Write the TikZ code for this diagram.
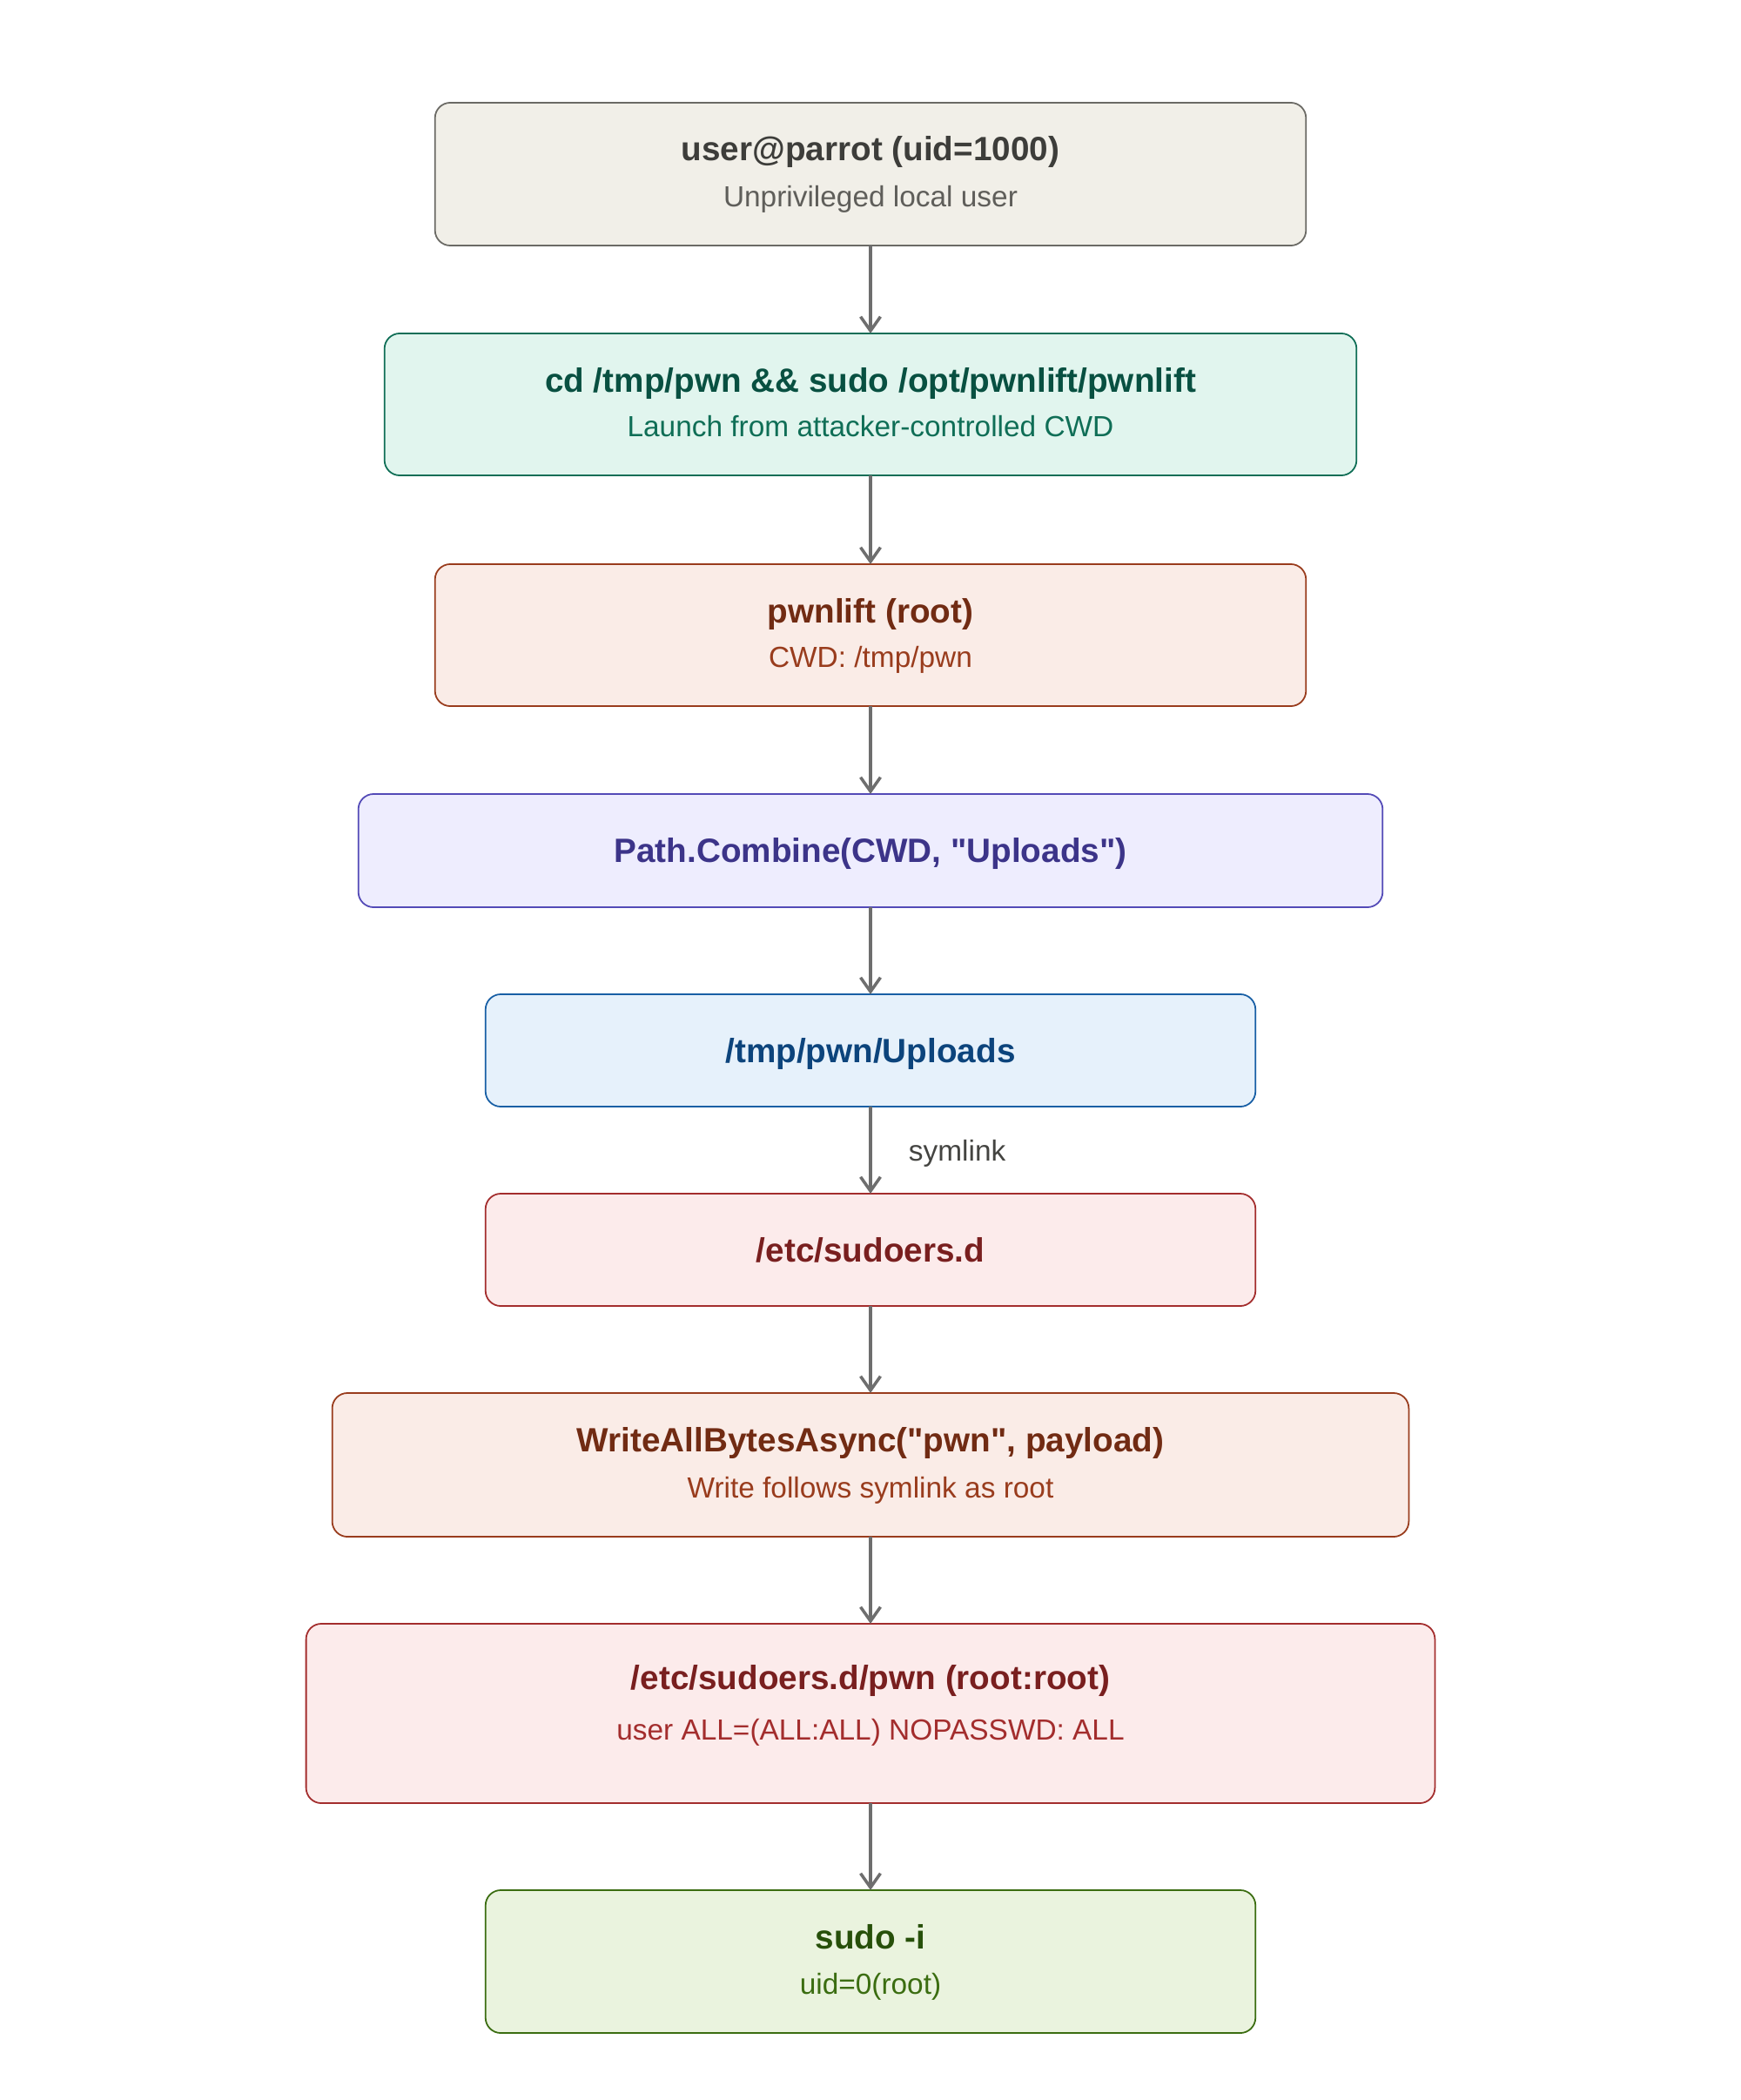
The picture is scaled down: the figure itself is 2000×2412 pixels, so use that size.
\documentclass[tikz,border=0pt]{standalone}
\usepackage{fontspec}
\setmainfont{Liberation Sans}
\usetikzlibrary{arrows.meta}

\definecolor{arrowgray}{HTML}{6E6E6E}
\definecolor{labelgray}{HTML}{444441}
\definecolor{sandfill}{HTML}{F1EFE8}
\definecolor{sanddraw}{HTML}{6B6A65}
\definecolor{sandtitle}{HTML}{3D3D3A}
\definecolor{sandsub}{HTML}{5F5E5A}
\definecolor{tealfill}{HTML}{E1F5EE}
\definecolor{tealdraw}{HTML}{0F6E56}
\definecolor{tealtitle}{HTML}{085041}
\definecolor{coralfill}{HTML}{FAECE7}
\definecolor{coraldraw}{HTML}{993C1D}
\definecolor{coraltitle}{HTML}{712B13}
\definecolor{purplefill}{HTML}{EEEDFE}
\definecolor{purpledraw}{HTML}{534AB7}
\definecolor{purpletitle}{HTML}{3C3489}
\definecolor{bluefill}{HTML}{E6F1FB}
\definecolor{bluedraw}{HTML}{185FA5}
\definecolor{bluetitle}{HTML}{0C447C}
\definecolor{redfill}{HTML}{FCEBEB}
\definecolor{reddraw}{HTML}{A32D2D}
\definecolor{redtitle}{HTML}{791F1F}
\definecolor{greenfill}{HTML}{EAF3DE}
\definecolor{greendraw}{HTML}{3B6D11}
\definecolor{greentitle}{HTML}{27500A}

\begin{document}
\begin{tikzpicture}[x=0.01cm, y=-0.01cm,
  box/.style={draw, rounded corners=5pt, line width=0.5pt, inner sep=0pt, outer sep=0pt},
  ttl/.style={font=\fontsize{11}{13}\selectfont\bfseries, text height=0.92em, text depth=0.2em, inner sep=0pt},
  sub/.style={font=\fontsize{9.5}{11}\selectfont, text height=0.92em, text depth=0.2em, inner sep=0pt},
  flow/.style={draw=arrowgray, line width=1pt, -{Straight Barb[length=4.6pt,width=6.5pt,line width=1pt]}}]
  \useasboundingbox (0,0) rectangle (2000,2412);

  % Unprivileged user
  \node[box, fill=sandfill, draw=sanddraw, minimum width=10cm, minimum height=1.64cm] (user) at (1000,200) {};
  \node[ttl, sandtitle] (user-t) at (1000,172) {user@parrot (uid=1000)};
  \node[sub, sandsub] (user-s) at (1000,225) {Unprivileged local user};

  % Launch command
  \node[box, fill=tealfill, draw=tealdraw, minimum width=11.16cm, minimum height=1.63cm] (launch) at (1000,464.5) {};
  \node[ttl, tealtitle] (launch-t) at (1000,438) {cd /tmp/pwn \&\& sudo /opt/pwnlift/pwnlift};
  \node[sub, tealdraw] (launch-s) at (1000,489) {Launch from attacker-controlled CWD};

  % pwnlift as root
  \node[box, fill=coralfill, draw=coraldraw, minimum width=10cm, minimum height=1.63cm] (pwnlift) at (1000,729.5) {};
  \node[ttl, coraltitle] (pwnlift-t) at (1000,703) {pwnlift (root)};
  \node[sub, coraldraw] (pwnlift-s) at (1000,754) {CWD: /tmp/pwn};

  % Path.Combine
  \node[box, fill=purplefill, draw=purpledraw, minimum width=11.76cm, minimum height=1.3cm] (combine) at (1000,977) {};
  \node[ttl, purpletitle] (combine-t) at (1000,978) {Path.Combine(CWD, \textquotedbl Uploads\textquotedbl)};

  % Uploads dir
  \node[box, fill=bluefill, draw=bluedraw, minimum width=8.84cm, minimum height=1.29cm] (uploads) at (1000,1206.5) {};
  \node[ttl, bluetitle] (uploads-t) at (1000,1208) {/tmp/pwn/Uploads};

  % sudoers.d
  \node[box, fill=redfill, draw=reddraw, minimum width=8.84cm, minimum height=1.29cm] (sudoersd) at (1000,1435.5) {};
  \node[ttl, redtitle] (sudoersd-t) at (1000,1437) {/etc/sudoers.d};

  % Write
  \node[box, fill=coralfill, draw=coraldraw, minimum width=12.36cm, minimum height=1.65cm] (write) at (1000,1682.5) {};
  \node[ttl, coraltitle] (write-t) at (1000,1655) {WriteAllBytesAsync(\textquotedbl pwn\textquotedbl, payload)};
  \node[sub, coraldraw] (write-s) at (1000,1708) {Write follows symlink as root};

  % Dropped sudoers file
  \node[box, fill=redfill, draw=reddraw, minimum width=12.96cm, minimum height=2.06cm] (dropped) at (1000,1968) {};
  \node[ttl, redtitle] (dropped-t) at (1000,1928) {/etc/sudoers.d/pwn (root:root)};
  \node[sub, reddraw] (dropped-s) at (1000,1986) {user ALL=(ALL:ALL) NOPASSWD: ALL};

  % Root shell
  \node[box, fill=greenfill, draw=greendraw, minimum width=8.84cm, minimum height=1.64cm] (shell) at (1000,2253) {};
  \node[ttl, greentitle] (shell-t) at (1000,2226) {sudo -i};
  \node[sub, greendraw] (shell-s) at (1000,2278) {uid=0(root)};

  % Arrows
  \draw[flow] (user) -- (launch);
  \draw[flow] (launch) -- (pwnlift);
  \draw[flow] (pwnlift) -- (combine);
  \draw[flow] (combine) -- (uploads);
  \draw[flow] (uploads) -- node[sub, labelgray, right=12pt] (symlink-l) {symlink} (sudoersd);
  \draw[flow] (sudoersd) -- (write);
  \draw[flow] (write) -- (dropped);
  \draw[flow] (dropped) -- (shell);
\end{tikzpicture}
\end{document}
